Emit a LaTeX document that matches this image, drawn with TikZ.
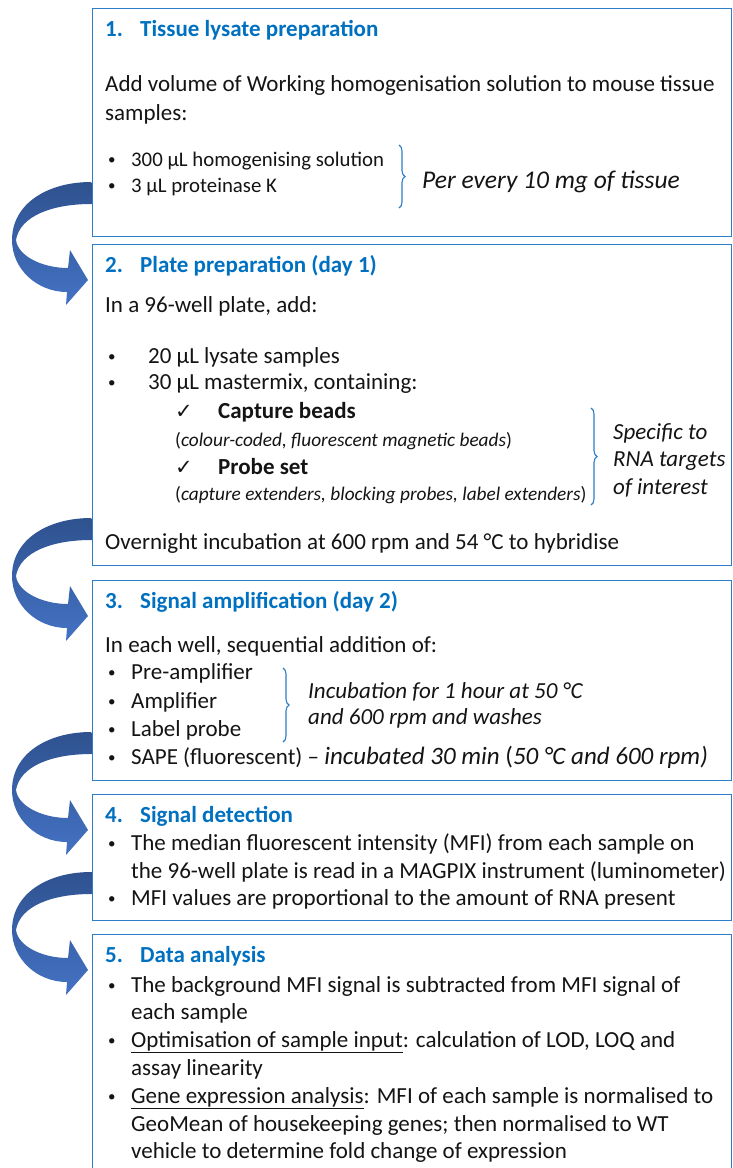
\documentclass[tikz,border=0pt]{standalone}
\usepackage{fontspec}
\setmainfont{Carlito}
\newfontfamily\checkfont{DejaVu Sans}
\usepackage{tikz}
\usetikzlibrary{calc,decorations.pathreplacing}
\definecolor{protoBlue}{RGB}{0,112,192}
\definecolor{protoFrame}{RGB}{46,125,200}
\definecolor{arrowDark}{RGB}{47,82,143}
\definecolor{arrowLight}{RGB}{68,114,196}
\definecolor{txtBlack}{RGB}{20,20,20}
\newcommand{\itemdot}[1]{\makebox[#1][l]{\fontsize{15}{15}\selectfont\raisebox{2pt}{•}}}
\newcommand{\stepnum}[1]{\makebox[35pt][l]{#1}}
\newcommand{\tick}{\makebox[43pt][l]{\checkfont\fontsize{21}{22}\selectfont ✓}}
\newcommand{\flowArrow}[1]{%
  \begin{scope}[shift={(#1.north west)}]
    \shade[top color=arrowDark, bottom color=arrowLight]
      (-0.7,-62) .. controls (-45,-62) and (-80,-40) .. (-80,-4)
      .. controls (-80,25) and (-55,48) .. (-25,48)
      -- (-26,61) -- (-4,36) -- (-22,6) -- (-24,24)
      .. controls (-50,24) and (-74,12) .. (-76,-4)
      .. controls (-72,-28) and (-40,-40) .. (-0.7,-40) -- cycle;
  \end{scope}}

\begin{document}
\begin{tikzpicture}[x=1pt,y=-1pt,
    frame/.style={draw=protoFrame, line width=1.3pt, fill=white, inner sep=0pt,
      anchor=north west, minimum width=639pt},
    txt/.style={anchor=base west, inner sep=0pt, text=txtBlack, font=\fontsize{23}{28}\selectfont},
    head/.style={txt, text=protoBlue, font=\fontsize{23}{28}\selectfont\bfseries},
    note/.style={txt, font=\fontsize{23}{28}\selectfont\itshape},
    small/.style={txt, font=\fontsize{19.3}{22}\selectfont},
    sidebrace/.style={draw=protoFrame, line width=1.1pt, decorate, decoration={brace, amplitude=6pt}}]
    \useasboundingbox (0,0) rectangle (732,1168);
    % boxes
    \node[frame, minimum height=228pt] (box1) at (92,8) {};
    \node[frame, minimum height=321pt] (box2) at (92,244) {};
    \node[frame, minimum height=200pt] (box3) at (92,580) {};
    \node[frame, minimum height=126pt] (box4) at (92,794) {};
    \node[frame, minimum height=260pt] (box5) at (92,934) {};
    % curved arrows
    \flowArrow{box2}
    \flowArrow{box3}
    \flowArrow{box4}
    \flowArrow{box5}
    % step 1
    \node[head] (h1) at (105,36) {\stepnum{1.}Tissue lysate preparation};
    \node[txt] (t1a) at (105,91) {Add volume of Working homogenisation solution to mouse tissue};
    \node[txt] (t1b) at (105,120) {samples:};
    \node[txt, font=\fontsize{20.8}{25}\selectfont] (t1c) at (108,166) {\itemdot{23pt}300 µL homogenising solution};
    \node[txt, font=\fontsize{20.8}{25}\selectfont] (t1d) at (108,192) {\itemdot{23pt}3 µL proteinase K};
    \draw[sidebrace] (399,145) -- (399,208);
    \node[note, font=\fontsize{25.5}{30}\selectfont\itshape] (n1) at (422,188) {Per every 10 mg of tissue};
    % step 2
    \node[head] (h2) at (105,272) {\stepnum{2.}Plate preparation (day 1)};
    \node[txt] (t2a) at (105,312) {In a 96-well plate, add:};
    \node[txt] (t2b) at (108,363) {\itemdot{40pt}20 µL lysate samples};
    \node[txt] (t2c) at (108,389) {\itemdot{40pt}30 µL mastermix, containing:};
    \node[txt] (t2d) at (175,418) {\tick\textbf{Capture beads}};
    \node[small] (t2e) at (175,446) {(\textit{colour-coded, fluorescent magnetic beads})};
    \node[txt] (t2f) at (175,474) {\tick\textbf{Probe set}};
    \node[small] (t2g) at (175,500) {(\textit{capture extenders, blocking probes, label extenders})};
    \draw[sidebrace] (591,408) -- (591,505);
    \node[note] (n2a) at (613,439) {Specific to};
    \node[note] (n2b) at (613,466) {RNA targets};
    \node[note] (n2c) at (613,494) {of interest};
    \node[txt] (t2h) at (105,549) {Overnight incubation at 600 rpm and 54 °C to hybridise};
    % step 3
    \node[head] (h3) at (105,608) {\stepnum{3.}Signal amplification (day 2)};
    \node[txt] (t3a) at (105,652) {In each well, sequential addition of:};
    \node[txt] (t3b) at (108,679) {\itemdot{23pt}Pre-amplifier};
    \node[txt] (t3c) at (108,708) {\itemdot{23pt}Amplifier};
    \node[txt] (t3d) at (108,736) {\itemdot{23pt}Label probe};
    \node[txt] (t3e) at (108,764) {\itemdot{23pt}SAPE (fluorescent) – {\fontsize{25}{28}\selectfont\textit{incubated 30 min} (\textit{50 °C and 600 rpm)}}};
    \draw[sidebrace] (283,668) -- (283,742);
    \node[note] (n3a) at (308,698) {Incubation for 1 hour at 50 °C};
    \node[note] (n3b) at (308,724) {and 600 rpm and washes};
    % step 4
    \node[head] (h4) at (105,822) {\stepnum{4.}Signal detection};
    \node[txt] (t4a) at (108,850) {\itemdot{23pt}The median fluorescent intensity (MFI) from each sample on};
    \node[txt] (t4b) at (131,878) {the 96-well plate is read in a MAGPIX instrument (luminometer)};
    \node[txt] (t4c) at (108,905) {\itemdot{23pt}MFI values are proportional to the amount of RNA present};
    % step 5
    \node[head] (h5) at (105,962) {\stepnum{5.}Data analysis};
    \node[txt] (t5a) at (108,992) {\itemdot{23pt}The background MFI signal is subtracted from MFI signal of};
    \node[txt] (t5b) at (131,1019) {each sample};
    \node[txt] (t5c) at (108,1047) {\itemdot{23pt}\underline{Optimisation of sample input}: calculation of LOD, LOQ and};
    \node[txt] (t5d) at (131,1075) {assay linearity};
    \node[txt] (t5e) at (108,1103) {\itemdot{23pt}\underline{Gene expression analysis}: MFI of each sample is normalised to};
    \node[txt] (t5f) at (131,1131) {GeoMean of housekeeping genes; then normalised to WT};
    \node[txt] (t5g) at (131,1158) {vehicle to determine fold change of expression};
\end{tikzpicture}
\end{document}
